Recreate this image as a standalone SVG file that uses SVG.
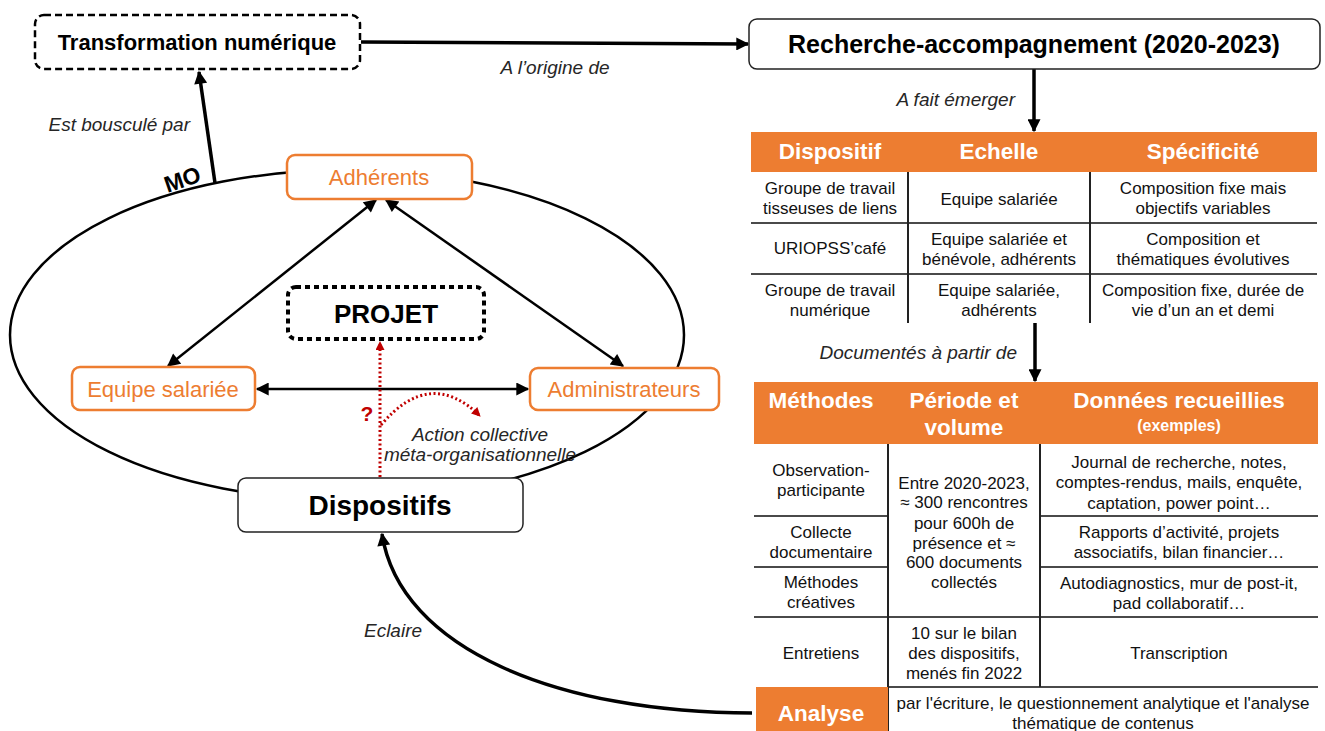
<svg xmlns="http://www.w3.org/2000/svg" width="1325" height="731" viewBox="0 0 1325 731">
<defs>
<style>
text{font-family:"Liberation Sans",Arial,sans-serif;}
.b{font-weight:bold;}
.it{font-style:italic;font-size:19px;fill:#262626;}
.lbl{font-size:22px;fill:#ED7D31;text-anchor:middle;}
.obox{fill:#fff;stroke:#ED7D31;stroke-width:2.5;}
.kbox{fill:#fff;stroke:#222;stroke-width:1.5;}
.th{font-weight:bold;font-size:22.5px;fill:#fff;text-anchor:middle;}
.small{font-size:16px;}
.td{font-size:17px;fill:#111;text-anchor:middle;}
.hl{stroke:#4a4a4a;stroke-width:2;}
.vl{stroke:#222;stroke-width:2;}
.ln{fill:none;stroke:#000;stroke-width:2.5;}
.thick{fill:none;stroke:#000;stroke-width:3.5;}
.red{fill:none;stroke:#C00000;stroke-width:3;stroke-dasharray:2 2.5;}
</style>
<marker id="ah" viewBox="0 0 10 10" refX="9" refY="5" markerWidth="15" markerHeight="13" markerUnits="userSpaceOnUse" orient="auto-start-reverse"><path d="M0,0 L10,5 L0,10 z" fill="#000"/></marker>
<marker id="ahr" viewBox="0 0 10 10" refX="9" refY="5" markerWidth="10" markerHeight="9" markerUnits="userSpaceOnUse" orient="auto"><path d="M0,0 L10,5 L0,10 z" fill="#C00000"/></marker>
</defs>
<rect width="1325" height="731" fill="#fff"/>

<g id="connectors">
<ellipse cx="347" cy="335" rx="337" ry="165" class="ln"/>
<line x1="361" y1="42" x2="748" y2="44" class="thick" marker-end="url(#ah)"/>
<line x1="215" y1="183" x2="199" y2="72" class="thick" marker-end="url(#ah)"/>
<line x1="1034" y1="69" x2="1034" y2="131" class="thick" marker-end="url(#ah)"/>
<line x1="1035" y1="323" x2="1035" y2="381" class="thick" marker-end="url(#ah)"/>
<line x1="376" y1="200" x2="168" y2="366" class="ln" marker-start="url(#ah)" marker-end="url(#ah)"/>
<line x1="386" y1="200" x2="623" y2="366" class="ln" marker-start="url(#ah)" marker-end="url(#ah)"/>
<line x1="257" y1="389" x2="528" y2="389" class="ln" marker-start="url(#ah)" marker-end="url(#ah)"/>
<path d="M752 713 C560 713 400 650 382 534" class="thick" marker-end="url(#ah)"/>
<line x1="380" y1="477" x2="380" y2="342" class="red" marker-end="url(#ahr)"/>
<path d="M381 425 Q430 367 480 416" class="red" marker-end="url(#ahr)"/>
<text x="185" y="187" class="b" font-size="23" text-anchor="middle" transform="rotate(-19 185 187)">MO</text>
<text x="555" y="74" class="it" text-anchor="middle">A l’origine de</text>
<text x="190" y="131" class="it" text-anchor="end">Est bousculé par</text>
<text x="1015" y="106" class="it" text-anchor="end">A fait émerger</text>
<text x="1017" y="359" class="it" text-anchor="end">Documentés à partir de</text>
<text x="393" y="637" class="it" text-anchor="middle">Eclaire</text>
<text x="367" y="421" class="b" font-size="21" fill="#C00000" text-anchor="middle">?</text>
<text x="480" y="441" class="it" font-size="18" text-anchor="middle">Action collective</text>
<text x="480" y="461" class="it" font-size="18" text-anchor="middle">méta-organisationnelle</text>
</g>

<g id="transformation">
<rect x="35" y="15" width="325" height="54" rx="9" fill="#fff" stroke="#000" stroke-width="2.5" stroke-dasharray="7 4"/>
<text x="197" y="50" class="b" font-size="22" text-anchor="middle">Transformation numérique</text>
</g>

<g id="recherche">
<rect x="749" y="19" width="571" height="50" rx="8" class="kbox"/>
<text x="1034" y="53" class="b" font-size="25" text-anchor="middle">Recherche-accompagnement (2020-2023)</text>
</g>

<g id="adherents">
<rect x="287" y="155" width="185" height="44" rx="8" class="obox"/>
<text x="379" y="185" class="lbl">Adhérents</text>
</g>

<g id="equipe">
<rect x="72" y="367" width="183" height="43" rx="8" class="obox"/>
<text x="163" y="397" class="lbl">Equipe salariée</text>
</g>

<g id="administrateurs">
<rect x="530" y="368" width="189" height="42" rx="8" class="obox"/>
<text x="624" y="397" class="lbl">Administrateurs</text>
</g>

<g id="projet">
<rect x="288" y="287" width="196" height="52" rx="8" fill="#fff" stroke="#000" stroke-width="4" stroke-dasharray="5 4"/>
<text x="386" y="323" class="b" font-size="26" text-anchor="middle">PROJET</text>
</g>

<g id="dispositifs">
<rect x="238" y="478" width="285" height="54" rx="8" class="kbox"/>
<text x="380" y="515" class="b" font-size="28" text-anchor="middle">Dispositifs</text>
</g>

<g id="table1">
<rect x="751" y="132" width="566" height="40" fill="#ED7D31"/>
<text x="830" y="159" class="th">Dispositif</text>
<text x="999" y="159" class="th">Echelle</text>
<text x="1203" y="159" class="th">Spécificité</text>
<line x1="751" y1="223" x2="1317" y2="223" class="hl"/>
<line x1="751" y1="274" x2="1317" y2="274" class="hl"/>
<line x1="908" y1="172" x2="908" y2="323" class="vl"/>
<line x1="1090" y1="172" x2="1090" y2="323" class="vl"/>
<text x="830" y="194" class="td">Groupe de travail</text>
<text x="830" y="214" class="td">tisseuses de liens</text>
<text x="999" y="205" class="td">Equipe salariée</text>
<text x="1203" y="194" class="td">Composition fixe mais</text>
<text x="1203" y="214" class="td">objectifs variables</text>
<text x="830" y="254" class="td">URIOPSS’café</text>
<text x="999" y="245" class="td">Equipe salariée et</text>
<text x="999" y="265" class="td">bénévole, adhérents</text>
<text x="1203" y="245" class="td">Composition et</text>
<text x="1203" y="265" class="td">thématiques évolutives</text>
<text x="830" y="296" class="td">Groupe de travail</text>
<text x="830" y="316" class="td">numérique</text>
<text x="999" y="296" class="td">Equipe salariée,</text>
<text x="999" y="316" class="td">adhérents</text>
<text x="1203" y="296" class="td">Composition fixe, durée de</text>
<text x="1203" y="316" class="td">vie d’un an et demi</text>
</g>

<g id="table2">
<rect x="754" y="382" width="564" height="62" fill="#ED7D31"/>
<text x="821" y="408" class="th">Méthodes</text>
<text x="964" y="408" class="th">Période et</text>
<text x="964" y="435" class="th">volume</text>
<text x="1179" y="408" class="th">Données recueillies</text>
<text x="1179" y="431" class="th small">(exemples)</text>
<line x1="754" y1="516" x2="888" y2="516" class="hl"/>
<line x1="1040" y1="516" x2="1318" y2="516" class="hl"/>
<line x1="754" y1="567" x2="888" y2="567" class="hl"/>
<line x1="1040" y1="567" x2="1318" y2="567" class="hl"/>
<line x1="754" y1="617" x2="1318" y2="617" class="hl"/>
<line x1="888" y1="687" x2="1318" y2="687" class="hl"/>
<line x1="888" y1="444" x2="888" y2="731" class="vl"/>
<line x1="1040" y1="444" x2="1040" y2="687" class="vl"/>
<text x="821" y="476" class="td">Observation-</text>
<text x="821" y="496" class="td">participante</text>
<text x="964" y="489" class="td">Entre 2020-2023,</text>
<text x="964" y="508" class="td">≈ 300 rencontres</text>
<text x="964" y="529" class="td">pour 600h de</text>
<text x="964" y="549" class="td">présence et ≈</text>
<text x="964" y="568" class="td">600 documents</text>
<text x="964" y="588" class="td">collectés</text>
<text x="1179" y="468" class="td">Journal de recherche, notes,</text>
<text x="1179" y="488" class="td">comptes-rendus, mails, enquête,</text>
<text x="1179" y="509" class="td">captation, power point…</text>
<text x="821" y="538" class="td">Collecte</text>
<text x="821" y="558" class="td">documentaire</text>
<text x="1179" y="538" class="td">Rapports d’activité, projets</text>
<text x="1179" y="558" class="td">associatifs, bilan financier…</text>
<text x="821" y="588" class="td">Méthodes</text>
<text x="821" y="608" class="td">créatives</text>
<text x="1179" y="589" class="td">Autodiagnostics, mur de post-it,</text>
<text x="1179" y="609" class="td">pad collaboratif…</text>
<text x="821" y="659" class="td">Entretiens</text>
<text x="964" y="639" class="td">10 sur le bilan</text>
<text x="964" y="659" class="td">des dispositifs,</text>
<text x="964" y="679" class="td">menés fin 2022</text>
<text x="1179" y="659" class="td">Transcription</text>
<rect x="756" y="687" width="132" height="44" fill="#ED7D31"/>
<text x="821" y="721" class="th">Analyse</text>
<text x="1103" y="709" class="td">par l'écriture, le questionnement analytique et l'analyse</text>
<text x="1103" y="729" class="td">thématique de contenus</text>
</g>
</svg>
